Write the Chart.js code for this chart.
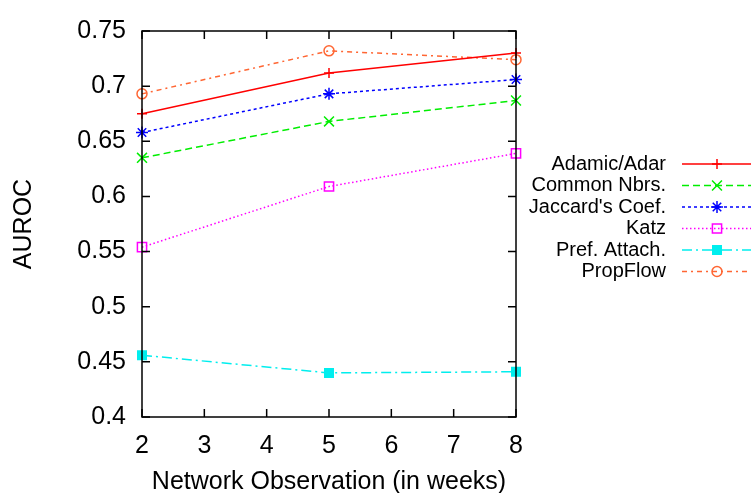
<!DOCTYPE html>
<html>
<head>
<meta charset="utf-8">
<script src="https://cdn.jsdelivr.net/npm/chart.js@4.4.0/dist/chart.umd.min.js"></script>
<style>
  html, body { margin: 0; padding: 0; background: #fff; }
  #wrap { width: 751px; height: 493px; }
</style>
</head>
<body>
<div id="wrap"><canvas id="c" width="751" height="493"></canvas></div>
<script>
// data
const weeks = [2, 5, 8];
const adamicAdar = [0.675, 0.712, 0.730];
const commonNbrs = [0.635, 0.668, 0.687];
const jaccard = [0.658, 0.693, 0.706];
const katz = [0.554, 0.609, 0.639];
const prefAttach = [0.456, 0.440, 0.441];
const propFlow = [0.693, 0.732, 0.724];

const xTicks = [2, 3, 4, 5, 6, 7, 8];
const yTicks = [0.4, 0.45, 0.5, 0.55, 0.6, 0.65, 0.7, 0.75];
const yTickLabels = ['0.4', '0.45', '0.5', '0.55', '0.6', '0.65', '0.7', '0.75'];

const seriesNames = ['Adamic/Adar', 'Common Nbrs.', "Jaccard's Coef.", 'Katz', 'Pref. Attach.', 'PropFlow'];
const seriesValues = [adamicAdar, commonNbrs, jaccard, katz, prefAttach, propFlow];

// styling
const styles = [
  { color: '#ff0000', dash: [], point: 'cross', r: 5, fill: 'transparent' },
  { color: '#00ee00', dash: [7, 4], point: 'crossRot', r: 7, fill: 'transparent' },
  { color: '#0000ff', dash: [3, 3], point: 'star', r: 6, fill: 'transparent' },
  { color: '#ff00ff', dash: [1.5, 2.5], point: 'rect', r: 6.5, fill: 'transparent' },
  { color: '#00eeee', dash: [10, 4, 2, 4], point: 'rect', r: 6, fill: '#00eeee' },
  { color: '#ff6633', dash: [5, 4, 2, 4], point: 'circle', r: 5, fill: 'transparent' }
];

const FONT = 'Liberation Sans, Arial, Helvetica, sans-serif';

const datasets = seriesNames.map((name, i) => ({
  label: name,
  data: weeks.map((w, j) => ({ x: w, y: seriesValues[i][j] })),
  borderColor: styles[i].color,
  borderWidth: 1.5,
  borderDash: styles[i].dash,
  pointStyle: styles[i].point,
  pointRadius: styles[i].r,
  pointBorderColor: styles[i].color,
  pointBackgroundColor: styles[i].fill,
  pointBorderWidth: 1.5,
  tension: 0,
  fill: false,
  clip: false
}));

// gnuplot style frame with inward ticks on all four sides
const framePlugin = {
  id: 'frame',
  afterDatasetsDraw(chart) {
    const { ctx, chartArea: a, scales } = chart;
    const tl = 8;
    ctx.save();
    ctx.strokeStyle = '#000';
    ctx.lineWidth = 1.5;
    ctx.setLineDash([]);
    ctx.strokeRect(a.left, a.top, a.right - a.left, a.bottom - a.top);
    ctx.beginPath();
    xTicks.forEach(v => {
      const px = scales.x.getPixelForValue(v);
      ctx.moveTo(px, a.bottom); ctx.lineTo(px, a.bottom - tl);
      ctx.moveTo(px, a.top); ctx.lineTo(px, a.top + tl);
    });
    yTicks.forEach(v => {
      const py = scales.y.getPixelForValue(v);
      ctx.moveTo(a.left, py); ctx.lineTo(a.left + tl, py);
      ctx.moveTo(a.right, py); ctx.lineTo(a.right - tl, py);
    });
    ctx.stroke();
    ctx.restore();
  }
};

// legend to the right: label right aligned, then a line sample with marker
const keyPlugin = {
  id: 'key',
  afterDraw(chart) {
    const { ctx } = chart;
    const textRight = 666, lineL = 682, lineR = 751, markX = 717;
    const top = 164, step = 21.5;
    ctx.save();
    chart.data.datasets.forEach((ds, i) => {
      const y = top + i * step;
      ctx.font = '20px ' + FONT;
      ctx.fillStyle = '#000';
      ctx.textAlign = 'right';
      ctx.textBaseline = 'middle';
      ctx.fillText(ds.label, textRight, y);
      ctx.strokeStyle = ds.borderColor;
      ctx.lineWidth = 1.5;
      ctx.setLineDash(ds.borderDash);
      ctx.beginPath();
      ctx.moveTo(lineL, y);
      ctx.lineTo(lineR, y);
      ctx.stroke();
      ctx.setLineDash([]);
      ctx.fillStyle = ds.pointBackgroundColor;
      ctx.strokeStyle = ds.pointBorderColor;
      Chart.helpers.drawPoint(ctx, { pointStyle: ds.pointStyle, radius: ds.pointRadius, rotation: 0, borderWidth: 1.5 }, markX, y);
    });
    ctx.restore();
  }
};

new Chart(document.getElementById('c'), {
  type: 'line',
  data: { datasets },
  options: {
    responsive: false,
    animation: false,
    devicePixelRatio: 1,
    layout: { padding: { top: 19, right: 235, left: 0, bottom: 0 } },
    plugins: { legend: { display: false }, tooltip: { enabled: false } },
    scales: {
      x: {
        type: 'linear',
        min: 2,
        max: 8,
        grid: { display: false, drawTicks: false },
        border: { display: false },
        afterBuildTicks: s => { s.ticks = xTicks.map(v => ({ value: v })); },
        afterFit: s => { s.height = 76; },
        ticks: {
          color: '#000',
          font: { family: FONT, size: 25 },
          padding: 14,
          maxRotation: 0,
          callback: v => String(v)
        },
        title: {
          display: true,
          text: 'Network Observation (in weeks)',
          color: '#000',
          font: { family: FONT, size: 25, lineHeight: 1 },
          padding: { top: 0, bottom: -1.5 }
        }
      },
      y: {
        min: 0.4,
        max: 0.75,
        grid: { display: false, drawTicks: false },
        border: { display: false },
        afterBuildTicks: s => { s.ticks = yTicks.map(v => ({ value: v })); },
        afterFit: s => { s.width = 142; },
        ticks: {
          color: '#000',
          font: { family: FONT, size: 25 },
          padding: 16,
          callback: (v, i) => yTickLabels[i]
        },
        title: {
          display: true,
          text: 'AUROC',
          color: '#000',
          font: { family: FONT, size: 25, lineHeight: 1 },
          padding: { top: 11.5, bottom: 0 }
        }
      }
    }
  },
  plugins: [framePlugin, keyPlugin]
});
</script>
</body>
</html>
